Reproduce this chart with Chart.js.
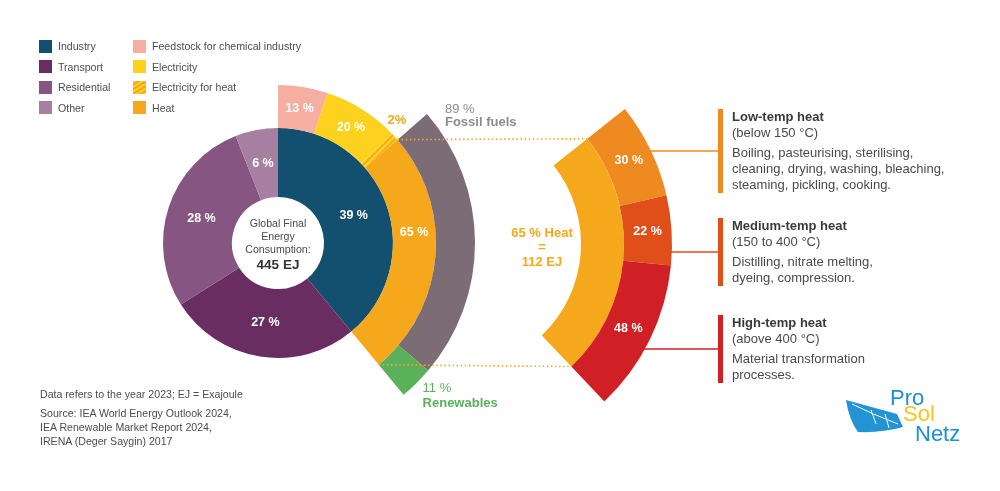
<!DOCTYPE html>
<html>
<head>
<meta charset="utf-8">
<script src="https://cdn.jsdelivr.net/npm/chart.js@4.4.1/dist/chart.umd.min.js"></script>
<style>
  body { margin: 0; background: #fff; font-family: "Liberation Sans", Arial, sans-serif; color: #4d4d4d; }
  #page { position: relative; width: 1000px; height: 491px; overflow: hidden; }
  .wrap { position: absolute; left: 0; top: 0; width: 1000px; height: 491px; }
  #legend { position: absolute; left: 39px; top: 36px; display: grid; grid-auto-flow: column;
            grid-template-columns: 94px auto; grid-template-rows: repeat(4, 20.5px); font-size: 10.6px; }
  #legend .item { display: flex; align-items: center; white-space: nowrap; }
  #legend .sw { width: 13px; height: 13px; margin-right: 6px; }
  .note { position: absolute; left: 40px; font-size: 10.6px; line-height: 14px; }
  .blk { position: absolute; left: 718px; border-left: 5px solid; padding-left: 9px;
         font-size: 13px; line-height: 16px; color: #4a4a4a; white-space: nowrap; }
  .blk b { color: #3a3a3a; }
  .blk p { margin: 4px 0 0 0; }
  .logo { position: absolute; font-size: 22px; line-height: 1; }
</style>
</head>
<body>
<div id="page">
  <div class="wrap"><canvas id="left"></canvas></div>
  <div class="wrap"><canvas id="right"></canvas></div>

  <div id="legend"></div>

  <div class="blk" id="blk0" style="top:109px; border-color:#ef8a21">
    <b>Low-temp heat</b><br>(below 150 °C)
    <p>Boiling, pasteurising, sterilising,<br>cleaning, drying, washing, bleaching,<br>steaming, pickling, cooking.</p>
  </div>
  <div class="blk" id="blk1" style="top:218px; border-color:#e04f1a">
    <b>Medium-temp heat</b><br>(150 to 400 °C)
    <p>Distilling, nitrate melting,<br>dyeing, compression.</p>
  </div>
  <div class="blk" id="blk2" style="top:315px; border-color:#d11f26">
    <b>High-temp heat</b><br>(above 400 °C)
    <p>Material transformation<br>processes.</p>
  </div>

  <div class="note" style="top:387px">Data refers to the year 2023; EJ = Exajoule</div>
  <div class="note" style="top:406px">Source: IEA World Energy Outlook 2024,<br>IEA Renewable Market Report 2024,<br>IRENA (Deger Saygin) 2017</div>

  <svg style="position:absolute;left:0;top:0" width="1000" height="491">
    <path d="M846,400 L897,414 L903,427 Q882,433 858,432 Q849,420 846,400 Z" fill="#2493d6"/>
    <path d="M852,404 Q872,414 898,424 M871,410 L876,424 M885,414 L889,428" stroke="#fff" stroke-width="1" fill="none"/>
  </svg>
  <span class="logo" style="left:890px; top:387px; color:#1d8fd6">Pro</span>
  <span class="logo" style="left:903px; top:403px; color:#f7c51e">Sol</span>
  <span class="logo" style="left:915px; top:423px; color:#1d8fd6">Netz</span>
</div>

<script>
// shares in percent
const sectorLabels = ['Industry', 'Transport', 'Residential', 'Other'];
const sectorShares = [39, 27, 28, 6];
const sectorColors = ['#13506f', '#692d62', '#875582', '#a67fa1'];

const industryLabels = ['Feedstock for chemical industry', 'Electricity', 'Electricity for heat', 'Heat'];
const industryShares = [13, 20, 2, 65];

const heatSourceLabels = ['Fossil fuels', 'Renewables'];
const heatSourceShares = [89, 11];
const heatSourceColors = ['#7b6c76', '#5bb05a'];

const heatTempLabels = ['Low-temp heat', 'Medium-temp heat', 'High-temp heat'];
const heatTempShares = [30, 22, 48];
const heatTempColors = ['#ef8a21', '#e04f1a', '#d11f26'];

const totalEJ = 445;
const heatEJ = 112;

const FONT = '"Liberation Sans", Arial, sans-serif';
const ORANGE = '#f5a81c';
const YELLOW = '#fdd21e';
const pct = v => v + ' %';

// striped fill for "electricity for heat"
const hatch = (() => {
  const c = document.createElement('canvas');
  c.width = 6; c.height = 6;
  const g = c.getContext('2d');
  g.fillStyle = YELLOW; g.fillRect(0, 0, 6, 6);
  g.strokeStyle = ORANGE; g.lineWidth = 1.6;
  g.beginPath();
  g.moveTo(-1, 7); g.lineTo(7, -1);
  g.moveTo(-1, 1); g.lineTo(1, -1);
  g.moveTo(5, 7); g.lineTo(7, 5);
  g.stroke();
  return g.createPattern(c, 'repeat');
})();
const industryColors = ['#f5ae9f', YELLOW, hatch, ORANGE];

// legend
const legend = document.getElementById('legend');
const addItem = (label, bg) => {
  const d = document.createElement('div');
  d.className = 'item';
  d.innerHTML = '<span class="sw" style="background:' + bg + '"></span>' + label;
  legend.appendChild(d);
};
sectorLabels.forEach((l, i) => addItem(l, sectorColors[i]));
industryLabels.forEach((l, i) => addItem(l, i === 2
  ? 'repeating-linear-gradient(150deg,' + YELLOW + ' 0 2px,' + ORANGE + ' 2px 4px)'
  : industryColors[i]));

// ring spans derived from the shares
const industrySpan = 360 * sectorShares[0] / 100;
const heatStart = industrySpan * (industryShares[0] + industryShares[1] + industryShares[2]) / 100;
const heatSpan = industrySpan * industryShares[3] / 100;

const text = (ctx, s, x, y, font, color, align) => {
  ctx.font = font;
  ctx.fillStyle = color;
  ctx.textAlign = align || 'center';
  ctx.fillText(s, x, y);
};
const polar = (arc, angle, r) => ({ x: arc.x + r * Math.cos(angle), y: arc.y + r * Math.sin(angle) });

const leftLabels = {
  id: 'leftLabels',
  afterDatasetsDraw(chart) {
    const ctx = chart.ctx;
    ctx.save();
    ctx.textBaseline = 'middle';
    const bold = 'bold 12.5px ' + FONT;
    chart.getDatasetMeta(2).data.forEach((arc, i) => {
      const p = arc.tooltipPosition();
      text(ctx, pct(sectorShares[i]), p.x, p.y, bold, '#fff');
    });
    const ind = chart.getDatasetMeta(1).data;
    ind.forEach((arc, i) => {
      if (i === 2) return;
      let p = arc.tooltipPosition();
      if (i === 3) {
        // heat label sits a bit above the middle of its arc
        p = polar(arc, arc.startAngle + 0.4 * (arc.endAngle - arc.startAngle), (arc.innerRadius + arc.outerRadius) / 2);
      }
      text(ctx, pct(industryShares[i]), p.x, p.y, bold, '#fff');
    });
    // small electricity-for-heat share sits outside
    const e = ind[2];
    const pe = polar(e, (e.startAngle + e.endAngle) / 2, e.outerRadius);
    text(ctx, industryShares[2] + '%', pe.x + 2, pe.y - 16, 'bold 13px ' + FONT, ORANGE);

    const src = chart.getDatasetMeta(0).data;
    const pf = polar(src[0], src[0].startAngle, src[0].outerRadius);
    text(ctx, pct(heatSourceShares[0]), pf.x + 18, pf.y - 5, '13px ' + FONT, '#8c8c8c', 'left');
    text(ctx, heatSourceLabels[0], pf.x + 18, pf.y + 8, 'bold 13px ' + FONT, '#8c8c8c', 'left');
    const pr = polar(src[1], src[1].endAngle, src[1].outerRadius);
    text(ctx, pct(heatSourceShares[1]), pr.x + 19, pr.y - 6, '13px ' + FONT, '#5bb05a', 'left');
    text(ctx, heatSourceLabels[1], pr.x + 19, pr.y + 9, 'bold 13px ' + FONT, '#5bb05a', 'left');

    // hole text
    const c = chart.getDatasetMeta(2).data[0];
    const small = '10.6px ' + FONT;
    text(ctx, 'Global Final', c.x, c.y - 19, small, '#4a4a4a');
    text(ctx, 'Energy', c.x, c.y - 6, small, '#4a4a4a');
    text(ctx, 'Consumption:', c.x, c.y + 7, small, '#4a4a4a');
    text(ctx, totalEJ + ' EJ', c.x, c.y + 22, 'bold 13.5px ' + FONT, '#333');
    ctx.restore();
  }
};

const leftChart = new Chart(document.getElementById('left'), {
  type: 'doughnut',
  data: {
    labels: sectorLabels,
    datasets: [
      { data: heatSourceShares, backgroundColor: heatSourceColors, rotation: heatStart, circumference: heatSpan, weight: 39 },
      { data: industryShares, backgroundColor: industryColors, circumference: industrySpan, weight: 43 },
      { data: sectorShares, backgroundColor: sectorColors, weight: 69 }
    ]
  },
  options: {
    responsive: true,
    maintainAspectRatio: false,
    animation: false,
    events: [],
    radius: 197,
    cutout: (46 / 197 * 100) + '%',
    borderWidth: 0,
    layout: { padding: { right: 444, bottom: 5 } },
    plugins: { legend: { display: false }, tooltip: { enabled: false } }
  },
  plugins: [leftLabels]
});

const rightLabels = {
  id: 'rightLabels',
  afterDatasetsDraw(chart) {
    const ctx = chart.ctx;
    ctx.save();
    ctx.textBaseline = 'middle';
    const temps = chart.getDatasetMeta(0).data;
    const heat = chart.getDatasetMeta(1).data[0];
    const lHeat = leftChart.getDatasetMeta(1).data[3];

    // dotted links between the two heat arcs
    ctx.strokeStyle = ORANGE;
    ctx.lineWidth = 1.6;
    ctx.setLineDash([1.5, 2.6]);
    ['startAngle', 'endAngle'].forEach(k => {
      const a = polar(lHeat, lHeat[k], lHeat.outerRadius);
      const b = polar(heat, heat[k], heat.outerRadius);
      ctx.beginPath(); ctx.moveTo(a.x, a.y); ctx.lineTo(b.x, b.y); ctx.stroke();
    });
    ctx.setLineDash([]);

    // connectors to the description blocks
    const box = chart.canvas.getBoundingClientRect();
    temps.forEach((arc, i) => {
      const r = document.getElementById('blk' + i).getBoundingClientRect();
      const y = r.top + r.height / 2 - box.top;
      const R = arc.outerRadius - 1;
      const x0 = arc.x + Math.sqrt(Math.max(R * R - (y - arc.y) ** 2, 0));
      ctx.strokeStyle = heatTempColors[i];
      ctx.lineWidth = 1.5;
      ctx.beginPath(); ctx.moveTo(x0, y); ctx.lineTo(r.left - box.left, y); ctx.stroke();
    });

    temps.forEach((arc, i) => {
      const p = arc.tooltipPosition();
      text(ctx, pct(heatTempShares[i]), p.x, p.y, 'bold 12.5px ' + FONT, '#fff');
    });
    const b = 'bold 13px ' + FONT;
    text(ctx, pct(industryShares[3]) + ' Heat', heat.x + 87, heat.y - 11, b, ORANGE);
    text(ctx, '=', heat.x + 87, heat.y + 3, b, ORANGE);
    text(ctx, heatEJ + ' EJ', heat.x + 87, heat.y + 18, b, ORANGE);
    ctx.restore();
  }
};

new Chart(document.getElementById('right'), {
  type: 'doughnut',
  data: {
    labels: heatTempLabels,
    datasets: [
      { data: heatTempShares, backgroundColor: heatTempColors, rotation: 51.5, circumference: 85, weight: 48 },
      { data: [industryShares[3]], backgroundColor: [ORANGE], rotation: 51.5, circumference: 85, weight: 43 },
      // invisible full ring keeps the centre fixed
      { data: [1], backgroundColor: ['rgba(0,0,0,0)'], weight: 0 }
    ]
  },
  options: {
    responsive: true,
    maintainAspectRatio: false,
    animation: false,
    events: [],
    radius: 217,
    cutout: (126 / 217 * 100) + '%',
    borderWidth: 0,
    layout: { padding: { right: 90, bottom: 3 } },
    plugins: { legend: { display: false }, tooltip: { enabled: false } }
  },
  plugins: [rightLabels]
});
</script>
</body>
</html>
